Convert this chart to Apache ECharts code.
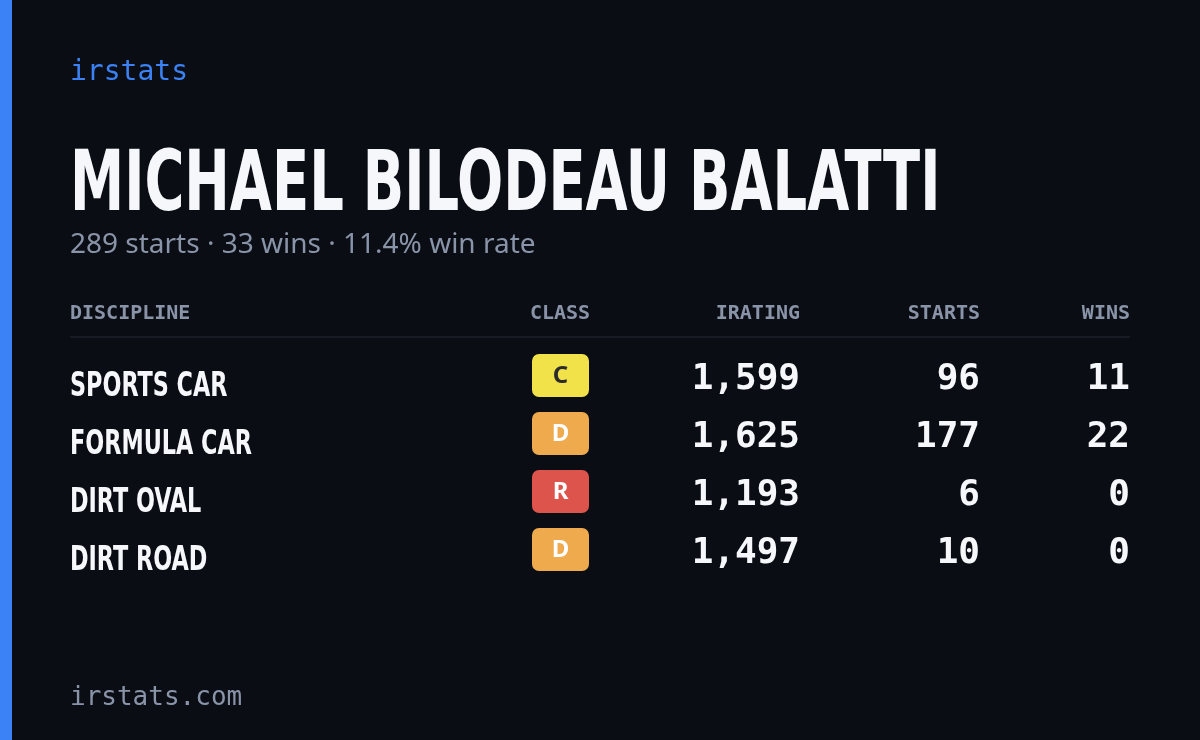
<!DOCTYPE html><html><head><meta charset="utf-8"><script src="https://cdn.jsdelivr.net/npm/echarts@6/dist/echarts.min.js"></script>
<style>html,body{margin:0;background:#0a0d14}#c{width:1200px;height:740px}</style></head><body><div id="c"></div><script>
const brand='irstats', site='irstats.com';
const player='MICHAEL BILODEAU BALATTI';
const subtitle='289 starts · 33 wins · 11.4% win rate';
const headers=['DISCIPLINE','CLASS','IRATING','STARTS','WINS'];
const disciplines=['SPORTS CAR','FORMULA CAR','DIRT OVAL','DIRT ROAD'];
const classes=['C','D','R','D'];
const iratings=[1599,1625,1193,1497];
const starts=[96,177,6,10];
const wins=[11,22,0,0];
const classColors={C:'#f2e24a',D:'#efaa4e',R:'#dc544b'};
const classText={C:'#2b2b2b',D:'#ffffff',R:'#ffffff'};
const cond='"Liberation Sans Narrow","DejaVu Sans Condensed",sans-serif';
const mono='"DejaVu Sans Mono",monospace';
const ch=echarts.init(document.getElementById('c'));
const g=[];
g.push({type:'rect',shape:{x:0,y:0,width:1200,height:740},style:{fill:'#0a0d14'}});
g.push({type:'rect',shape:{x:0,y:0,width:12,height:740},style:{fill:'#3b82f6'}});
g.push({type:'text',x:70,y:73,style:{text:brand,font:'28px '+mono,fill:'#3b82f6',verticalAlign:'middle'}});
g.push({type:'text',x:70,y:188,scaleX:0.72,style:{text:player,font:'bold 84px '+cond,fill:'#f5f7fa',verticalAlign:'middle'}});
g.push({type:'text',x:70,y:245,style:{text:subtitle,font:'28px "Noto Sans",sans-serif',fill:'#8a94a8',verticalAlign:'middle'}});
const colX=[70,560,800,980,1130], colAl=['left','center','right','right','right'];
headers.forEach((h,i)=>g.push({type:'text',x:colX[i],y:314,style:{text:h,font:'bold 20px '+mono,fill:'#8a94a8',align:colAl[i],verticalAlign:'middle'}}));
g.push({type:'rect',shape:{x:70,y:336,width:1060,height:2},style:{fill:'#171b26'}});
disciplines.forEach((d,r)=>{
  const y=380+r*58;
  g.push({type:'text',x:70,y:y+7,scaleX:0.73,style:{text:d,font:'bold 34px '+cond,fill:'#f5f7fa',verticalAlign:'middle'}});
  g.push({type:'rect',shape:{x:532,y:y-26,width:57,height:43,r:7},style:{fill:classColors[classes[r]]}});
  g.push({type:'text',x:560.5,y:y-4,style:{text:classes[r],font:'bold 24px "Noto Sans",sans-serif',fill:classText[classes[r]],align:'center',verticalAlign:'middle'}});
  [iratings[r].toLocaleString('en-US'),String(starts[r]),String(wins[r])].forEach((v,k)=>
    g.push({type:'text',x:colX[k+2],y:y,style:{text:v,font:'bold 36px '+mono,fill:'#f5f7fa',align:'right',verticalAlign:'middle'}}));
});
g.push({type:'text',x:70,y:698,style:{text:site,font:'26px '+mono,fill:'#8a94a8',verticalAlign:'middle'}});
ch.setOption({animation:false,graphic:{elements:g}});
</script></body></html>
